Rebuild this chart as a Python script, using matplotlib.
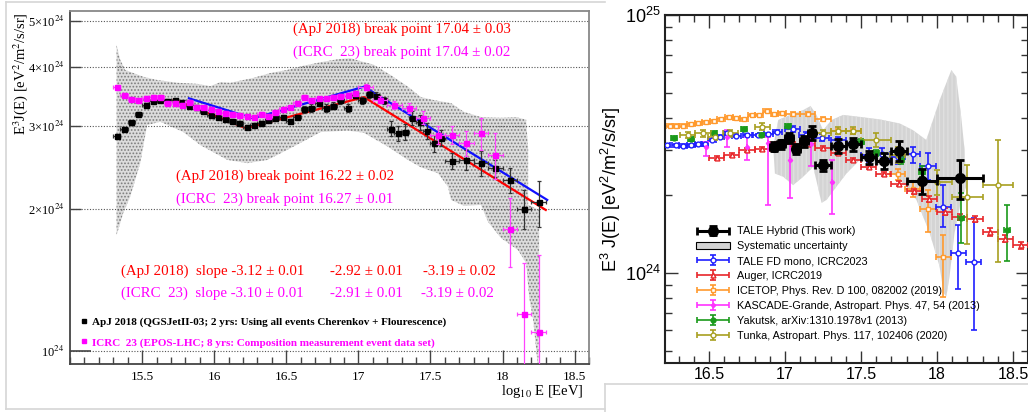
import matplotlib
matplotlib.use('Agg')
import matplotlib.pyplot as plt
from matplotlib.lines import Line2D
from matplotlib.patches import Patch
from matplotlib.container import ErrorbarContainer
from matplotlib.legend_handler import HandlerErrorbar
from matplotlib.ticker import MultipleLocator, LogLocator, NullFormatter

plt.rcParams['font.family'] = ['Liberation Serif', 'DejaVu Serif']
plt.rcParams['mathtext.fontset'] = 'custom'
plt.rcParams['mathtext.rm'] = 'Liberation Sans'
plt.rcParams['mathtext.it'] = 'Liberation Sans:italic'
plt.rcParams['hatch.linewidth'] = 0.8

# ---------------- left panel data (E^3 J in units of 1e24 eV^2/m^2/s/sr) ----------------
apj_x = [15.325, 15.375, 15.425, 15.475, 15.525, 15.575, 15.625, 15.675, 15.725, 15.775,
         15.825, 15.875, 15.925, 15.975, 16.025, 16.075, 16.125, 16.175, 16.225, 16.275,
         16.325, 16.375, 16.425, 16.475, 16.525, 16.575, 16.625, 16.675, 16.725, 16.775,
         16.825, 16.875, 16.925, 16.975, 17.025, 17.075, 17.125, 17.175, 17.225, 17.275,
         17.325, 17.375, 17.425, 17.475, 17.525, 17.575, 17.65, 17.75, 17.85, 17.95,
         18.05, 18.15, 18.25]
apj_y = [2.855, 2.95, 3.05, 3.18, 3.32, 3.39, 3.40, 3.39, 3.40, 3.365,
         3.30, 3.28, 3.22, 3.16, 3.13, 3.10, 3.075, 3.045, 2.98, 3.01,
         3.045, 3.085, 3.11, 3.135, 3.07, 3.135, 3.25, 3.27, 3.36, 3.27,
         3.31, 3.40, 3.27, 3.49, 3.40, 3.50, 3.475, 3.40, 2.96, 2.89,
         2.915, 3.12, 3.05, 2.925, 2.755, 2.83, 2.53, 2.54, 2.50, 2.44,
         2.30, 2.00, 2.065]
apj_yerr = [0.025, 0.025, 0.025, 0.025, 0.025, 0.025, 0.025, 0.025, 0.025, 0.025,
            0.025, 0.025, 0.025, 0.025, 0.025, 0.025, 0.025, 0.025, 0.025, 0.025,
            0.025, 0.025, 0.025, 0.025, 0.025, 0.025, 0.06, 0.06, 0.06, 0.06,
            0.06, 0.06, 0.06, 0.06, 0.06, 0.06, 0.06, 0.06, 0.11, 0.11,
            0.11, 0.11, 0.11, 0.11, 0.11, 0.11, 0.10, 0.12, 0.15, 0.10,
            0.14, 0.19, 0.23]
apj_xerr = [0.025, 0.025, 0.025, 0.025, 0.025, 0.025, 0.025, 0.025, 0.025, 0.025,
            0.025, 0.025, 0.025, 0.025, 0.025, 0.025, 0.025, 0.025, 0.025, 0.025,
            0.025, 0.025, 0.025, 0.025, 0.025, 0.025, 0.025, 0.025, 0.025, 0.025,
            0.025, 0.025, 0.025, 0.025, 0.025, 0.025, 0.025, 0.025, 0.025, 0.025,
            0.025, 0.025, 0.025, 0.025, 0.025, 0.025, 0.05, 0.05, 0.05, 0.05,
            0.05, 0.05, 0.05]

icrc_x = [15.325, 15.375, 15.425, 15.475, 15.525, 15.575, 15.625, 15.675, 15.725, 15.775,
          15.825, 15.875, 15.925, 15.975, 16.025, 16.075, 16.125, 16.175, 16.225, 16.275,
          16.325, 16.375, 16.425, 16.475, 16.525, 16.575, 16.625, 16.675, 16.725, 16.775,
          16.825, 16.875, 16.925, 16.975, 17.05, 17.15, 17.25, 17.35, 17.45, 17.55,
          17.65, 17.75, 17.85, 17.95, 18.05, 18.15, 18.25]
icrc_y = [3.62, 3.485, 3.42, 3.41, 3.44, 3.46, 3.46, 3.35, 3.35, 3.32,
          3.37, 3.29, 3.28, 3.25, 3.225, 3.20, 3.18, 3.16, 3.145, 3.135,
          3.18, 3.145, 3.21, 3.26, 3.28, 3.36, 3.46, 3.40, 3.43, 3.43,
          3.45, 3.47, 3.485, 3.52, 3.63, 3.41, 3.32, 3.27, 3.12, 2.87,
          2.87, 2.755, 2.89, 2.60, 1.81, 1.20, 1.095]
icrc_lo = [0.03, 0.03, 0.03, 0.03, 0.03, 0.03, 0.03, 0.03, 0.03, 0.03,
           0.03, 0.03, 0.03, 0.03, 0.03, 0.03, 0.03, 0.03, 0.03, 0.03,
           0.03, 0.03, 0.03, 0.03, 0.03, 0.03, 0.03, 0.03, 0.03, 0.03,
           0.03, 0.03, 0.03, 0.03, 0.05, 0.06, 0.07, 0.08, 0.10, 0.12,
           0.12, 0.17, 0.23, 0.29, 0.30, 0.70, 0.60]
icrc_hi = [0.03, 0.03, 0.03, 0.03, 0.03, 0.03, 0.03, 0.03, 0.03, 0.03,
           0.03, 0.03, 0.03, 0.03, 0.03, 0.03, 0.03, 0.03, 0.03, 0.03,
           0.03, 0.03, 0.03, 0.03, 0.03, 0.03, 0.03, 0.03, 0.03, 0.03,
           0.03, 0.03, 0.03, 0.03, 0.05, 0.06, 0.07, 0.08, 0.10, 0.12,
           0.12, 0.17, 0.23, 0.29, 0.30, 0.34, 0.50]
icrc_xerr = [0.025, 0.025, 0.025, 0.025, 0.025, 0.025, 0.025, 0.025, 0.025, 0.025,
             0.025, 0.025, 0.025, 0.025, 0.025, 0.025, 0.025, 0.025, 0.025, 0.025,
             0.025, 0.025, 0.025, 0.025, 0.025, 0.025, 0.025, 0.025, 0.025, 0.025,
             0.025, 0.025, 0.025, 0.025, 0.05, 0.05, 0.05, 0.05, 0.05, 0.05,
             0.05, 0.05, 0.05, 0.05, 0.05, 0.05, 0.05]

# broken power-law fits (vertices)
apj_fit_x = [15.72, 16.22, 17.04, 18.30]
apj_fit_y = [3.41, 2.965, 3.45, 1.99]
icrc_fit_x = [15.825, 16.27, 17.04, 18.31]
icrc_fit_y = [3.43, 3.11, 3.63, 2.09]

# systematic band outline
band_x = [15.323, 15.323, 15.348, 15.382, 15.438, 15.508, 15.605, 15.744, 15.883, 15.974,
          16.043, 16.113, 16.273, 16.391, 16.509, 16.620, 16.739, 16.857, 16.947, 17.017,
          17.107, 17.225, 17.344, 17.434, 17.524, 17.643, 17.733, 17.851, 17.990, 18.095,
          18.164, 18.178, 18.178, 18.254, 18.254, 18.248,
          18.234, 18.213, 18.185, 18.164, 18.108, 17.990, 17.900, 17.851, 17.733, 17.643,
          17.622, 17.552, 17.434, 17.344, 17.204, 17.038, 16.926, 16.739, 16.599, 16.509,
          16.370, 16.231, 16.092, 15.904, 15.786, 15.626, 15.535, 15.487, 15.417, 15.369,
          15.334]
band_y = [1.761, 4.45, 4.14, 3.94, 3.88, 3.81, 3.75, 3.70, 3.68, 3.64,
          3.71, 3.70, 3.79, 3.88, 3.94, 4.02, 4.09, 4.15, 4.17, 4.11,
          4.04, 3.84, 3.63, 3.45, 3.40, 3.35, 3.21, 3.13, 3.12, 3.13,
          3.09, 2.67, 2.04, 1.99, 1.28, 0.90,
          1.005, 1.163, 1.30, 1.536, 1.636, 1.735, 1.877, 2.04, 2.03, 2.09,
          2.23, 2.38, 2.45, 2.54, 2.71, 2.90, 2.93, 2.91, 2.76, 2.67,
          2.54, 2.50, 2.54, 2.73, 2.91, 3.06, 3.01, 2.50, 2.12, 1.96,
          1.805]

left_yticks = [2, 3, 4, 5]
left_yticklabels = ['2\u00d710$^{24}$', '3\u00d710$^{24}$', '4\u00d710$^{24}$', '5\u00d710$^{24}$']
left_xticks = [15.5, 16, 16.5, 17, 17.5, 18, 18.5]
left_xticklabels = ['15.5', '16', '16.5', '17', '17.5', '18', '18.5']

# ---------------- right panel data ----------------
hyb_x = [16.925, 16.975, 17.025, 17.075, 17.125, 17.175, 17.25, 17.35, 17.45, 17.55, 17.65, 17.75, 17.9, 18.15]
hyb_y = [3.09, 3.16, 3.33, 3.02, 3.25, 3.50, 2.62, 3.11, 3.16, 2.81, 2.72, 2.98, 2.27, 2.34]
hyb_yerr = [0.12, 0.13, 0.15, 0.14, 0.16, 0.21, 0.13, 0.19, 0.19, 0.17, 0.19, 0.27, 0.25, 0.40]
hyb_xerr = [0.025, 0.025, 0.025, 0.025, 0.025, 0.025, 0.05, 0.05, 0.05, 0.05, 0.05, 0.05, 0.1, 0.15]

fd_x = [16.22, 16.28, 16.33, 16.38, 16.43, 16.47, 16.52, 16.57, 16.62, 16.68, 16.75, 16.82, 16.89, 16.95,
        17.05, 17.14, 17.24, 17.35, 17.45, 17.55, 17.64, 17.74, 17.84, 17.94, 18.04, 18.14, 18.24]
fd_y = [3.13, 3.13, 3.11, 3.13, 3.15, 3.15, 3.28, 3.38, 3.48, 3.41, 3.43, 3.43, 3.45, 3.53,
        3.62, 3.43, 3.35, 3.28, 3.18, 2.87, 2.88, 2.82, 2.88, 2.61, 1.81, 1.20, 1.10]
fd_lo = [0.04, 0.04, 0.04, 0.04, 0.04, 0.04, 0.04, 0.04, 0.04, 0.04, 0.04, 0.04, 0.04, 0.04,
         0.10, 0.10, 0.10, 0.10, 0.10, 0.17, 0.17, 0.17, 0.20, 0.31, 0.30, 0.33, 0.50]
fd_hi = [0.04, 0.04, 0.04, 0.04, 0.04, 0.04, 0.04, 0.04, 0.04, 0.04, 0.04, 0.04, 0.04, 0.04,
         0.10, 0.10, 0.10, 0.10, 0.10, 0.17, 0.17, 0.17, 0.20, 0.31, 0.38, 0.34, 0.54]
fd_xerr = [0.025, 0.025, 0.025, 0.025, 0.025, 0.025, 0.025, 0.025, 0.025, 0.03, 0.03, 0.03, 0.03, 0.03,
           0.05, 0.05, 0.05, 0.05, 0.05, 0.05, 0.05, 0.05, 0.05, 0.05, 0.05, 0.05, 0.05]

aug_x = [16.55, 16.65, 16.75, 16.85, 16.95, 17.05, 17.15, 17.25, 17.35, 17.45, 17.55,
         17.65, 17.75, 17.85, 17.95, 18.05, 18.15, 18.25, 18.35, 18.45, 18.55]
aug_y = [2.78, 2.87, 3.00, 3.02, 3.16, 3.16, 3.16, 3.06, 2.91, 2.74, 2.58,
         2.42, 2.22, 2.07, 1.93, 1.73, 1.65, 1.62, 1.44, 1.36, 1.28]
aug_yerr = [0.05, 0.05, 0.05, 0.05, 0.05, 0.05, 0.05, 0.05, 0.05, 0.05, 0.05,
            0.05, 0.05, 0.05, 0.05, 0.05, 0.05, 0.05, 0.05, 0.04, 0.04]

ice_x = [16.24, 16.28, 16.33, 16.38, 16.43, 16.48, 16.53, 16.58, 16.63, 16.68, 16.73, 16.78, 16.83,
         16.88, 16.93, 16.98, 17.05, 17.15, 17.25, 17.35, 17.45, 17.74, 17.84, 17.94, 18.04]
ice_y = [3.72, 3.72, 3.72, 3.77, 3.80, 3.84, 3.88, 3.95, 4.01, 3.98, 3.95, 4.10, 4.10,
         4.26, 4.12, 4.16, 4.13, 4.13, 3.95, 3.55, 3.55, 2.42, 2.11, 1.77, 1.157]
ice_lo = [0.05, 0.05, 0.05, 0.05, 0.05, 0.05, 0.05, 0.05, 0.05, 0.05, 0.05, 0.05, 0.05,
          0.05, 0.05, 0.05, 0.06, 0.06, 0.07, 0.08, 0.08, 0.12, 0.14, 0.33, 0.35]
ice_hi = [0.05, 0.05, 0.05, 0.05, 0.05, 0.05, 0.05, 0.05, 0.05, 0.05, 0.05, 0.05, 0.05,
          0.05, 0.05, 0.05, 0.06, 0.06, 0.07, 0.08, 0.08, 0.12, 0.14, 0.33, 0.25]
ice_xerr = [0.025, 0.025, 0.025, 0.025, 0.025, 0.025, 0.025, 0.025, 0.025, 0.025, 0.025, 0.025, 0.025,
            0.025, 0.025, 0.025, 0.05, 0.05, 0.05, 0.05, 0.05, 0.05, 0.05, 0.05, 0.05]

kg_x = [16.48, 16.62, 16.75, 16.89, 17.03, 17.17, 17.31]
kg_y = [3.09, 3.38, 3.09, 3.18, 2.74, 3.15, 2.26]
kg_lo = [0.25, 0.29, 0.35, 1.35, 0.79, 0.54, 0.56]
kg_hi = [0.14, 0.21, 0.29, 0.19, 0.44, 0.17, 0.48]

yak_x = [16.27, 16.38, 16.53, 16.73, 16.84, 17.02, 17.50, 17.60, 17.76, 17.90, 18.16, 18.46]
yak_y = [3.33, 3.30, 3.48, 3.61, 3.43, 3.71, 3.23, 2.91, 2.74, 2.47, 1.64, 1.47]
yak_lo = [0.06, 0.06, 0.06, 0.06, 0.06, 0.07, 0.08, 0.08, 0.10, 0.12, 0.33, 0.36]
yak_hi = [0.06, 0.06, 0.06, 0.06, 0.06, 0.07, 0.08, 0.08, 0.10, 0.12, 0.41, 0.37]

tk_x = [16.36, 16.46, 16.54, 16.64, 16.85, 17.25, 17.35, 17.45, 17.60, 17.74, 18.00, 18.20, 18.40]
tk_y = [3.43, 3.48, 3.38, 3.48, 3.69, 3.48, 3.56, 3.56, 3.28, 2.87, 2.26, 1.97, 2.19]
tk_lo = [0.10, 0.10, 0.10, 0.10, 0.11, 0.10, 0.11, 0.11, 0.20, 0.20, 0.25, 0.67, 1.09]
tk_hi = [0.10, 0.10, 0.10, 0.10, 0.11, 0.10, 0.11, 0.11, 0.20, 0.20, 0.25, 0.65, 1.08]
tk_xerr = [0.05, 0.05, 0.05, 0.05, 0.05, 0.05, 0.05, 0.05, 0.1, 0.05, 0.1, 0.1, 0.1]

rband_x = [16.922, 16.955, 17.032, 17.119, 17.168, 17.207, 17.25, 17.306, 17.382, 17.491,
           17.623, 17.754, 17.841, 17.929, 18.017, 18.094, 18.126, 18.159, 18.181, 18.192,
           18.159, 18.115, 18.082, 18.061,
           18.043, 18.017, 17.951, 17.864, 17.798, 17.667, 17.491, 17.404, 17.338, 17.273,
           17.24, 17.185, 17.119, 17.053, 16.988, 16.933]
rband_y = [3.09, 3.92, 4.10, 4.28, 4.44, 4.10, 3.58, 3.92, 4.10, 4.03,
           3.94, 3.80, 3.58, 3.28, 4.68, 6.12, 5.77, 4.03, 3.0, 2.16,
           1.92, 1.43, 0.968, 0.81,
           0.837, 1.058, 1.43, 1.92, 2.16, 2.58, 2.74, 2.43, 2.16, 1.92,
           1.87, 2.58, 2.36, 2.19, 2.36, 2.43]

right_xticks = [16.5, 17, 17.5, 18, 18.5]
right_xticklabels = ['16.5', '17', '17.5', '18', '18.5']

W, H = 1028.0, 412.0


def fx(px):
    return px / W


def fy(py):
    return 1 - py / H


fig = plt.figure(figsize=(10.28, 4.12), dpi=100)

# light frames of the two screenshots
frame = dict(transform=fig.transFigure, color='#d6d6d6', lw=1.2)
fig.add_artist(Line2D([fx(6), fx(605)], [fy(2), fy(2)], **frame))
fig.add_artist(Line2D([fx(6), fx(6)], [fy(2), fy(409)], **frame))
fig.add_artist(Line2D([fx(6), fx(605)], [fy(409), fy(409)], **frame))
fig.add_artist(Line2D([fx(605), fx(605)], [fy(384), fy(412)], **frame))
fig.add_artist(Line2D([fx(605), fx(1028)], [fy(384), fy(384)], **frame))

# ================= left panel =================
ax = fig.add_axes([fx(70), fy(364), fx(589) - fx(70), fy(11) - fy(364)])
ax.set_yscale('log')
ax.set_xlim(15.0, 18.6)
ax.set_ylim(0.939, 5.25)

ax.fill(band_x, band_y, facecolor='#dcdcdc', edgecolor='#7c7c7c', hatch='.....', linewidth=0, zorder=1)

ax.set_yticks([1], labels=['10$^{24}$'], fontsize=9, math_fontfamily='stix')
ax.set_yticks(left_yticks, labels=left_yticklabels, minor=True, fontsize=9, math_fontfamily='stix')
ax.set_xticks(left_xticks, labels=left_xticklabels, fontsize=9.5)
ax.xaxis.set_minor_locator(MultipleLocator(0.1))
ax.tick_params(axis='y', which='major', direction='in', length=15, width=1.2, color='#444444', pad=4)
ax.tick_params(axis='y', which='minor', direction='in', length=8, width=1.0, color='#444444', pad=4)
ax.tick_params(axis='x', which='major', direction='in', length=10, width=1.0, color='#444444', pad=5)
ax.tick_params(axis='x', which='minor', direction='in', length=5, width=1.0, color='#444444')
ax.grid(True, axis='y', which='both', color='#555555', linestyle=(0, (1, 1.5)), linewidth=0.8, zorder=2)
for side in ['left', 'bottom']:
    ax.spines[side].set_color('#444444')
    ax.spines[side].set_linewidth(1.3)
for side in ['top', 'right']:
    ax.spines[side].set_color('#888888')
    ax.spines[side].set_linewidth(1.3)

ax.plot(apj_fit_x, apj_fit_y, color='#ff0000', lw=1.6, zorder=3)
ax.plot(icrc_fit_x, icrc_fit_y, color='#1010ff', lw=1.6, zorder=3)

ax.errorbar(apj_x, apj_y, yerr=apj_yerr, xerr=apj_xerr, fmt='s', color='black', ecolor='#333333',
            ms=3.6, elinewidth=0.9, capsize=1.5, capthick=0.9, zorder=4)
ax.errorbar(icrc_x, icrc_y, yerr=[icrc_lo, icrc_hi], xerr=icrc_xerr, fmt='s', color='#ff00ff',
            ecolor='#ff44ff', ms=3.6, elinewidth=0.9, capsize=1.5, capthick=0.9, zorder=5)

red, mag = '#ff0000', '#ff00ff'
tk = dict(transform=ax.transAxes, fontsize=10.7, va='center', ha='left')
ax.text(0.429, 0.949, '(ApJ 2018) break point 17.04 \u00b1 0.03', color=red, **tk)
ax.text(0.429, 0.884, '(ICRC  23) break point 17.04 \u00b1 0.02', color=mag, **tk)
ax.text(0.204, 0.533, '(ApJ 2018) break point 16.22 \u00b1 0.02', color=red, **tk)
ax.text(0.204, 0.467, '(ICRC  23) break point 16.27 \u00b1 0.01', color=mag, **tk)
ax.text(0.0977, 0.263, '(ApJ 2018)  slope -3.12 \u00b1 0.01', color=red, **tk)
ax.text(0.501, 0.263, '-2.92 \u00b1 0.01', color=red, **tk)
ax.text(0.680, 0.263, '-3.19 \u00b1 0.02', color=red, **tk)
ax.text(0.0977, 0.201, '(ICRC  23)  slope -3.10 \u00b1 0.01', color=mag, **tk)
ax.text(0.501, 0.201, '-2.91 \u00b1 0.01', color=mag, **tk)
ax.text(0.677, 0.201, '-3.19 \u00b1 0.02', color=mag, **tk)

leg_handles = [Line2D([], [], marker='s', color='black', ls='none', ms=3),
               Line2D([], [], marker='s', color='#ff00ff', ls='none', ms=3)]
leg_labels = ['ApJ 2018 (QGSJetII-03; 2 yrs: Using all events Cherenkov + Flourescence)',
              'ICRC  23 (EPOS-LHC; 8 yrs: Composition measurement event data set)']
leg = ax.legend(leg_handles, leg_labels, loc='lower left', bbox_to_anchor=(0.01, 0.034),
                frameon=False, prop={'family': 'Liberation Serif', 'weight': 'bold', 'size': 8.0},
                handlelength=0.8, handletextpad=0.32, labelspacing=0.95, borderaxespad=0)
for t, c in zip(leg.get_texts(), ['black', '#ff00ff']):
    t.set_color(c)

fig.text(fx(21), fy(12), 'E$^{3}$J(E) [eV$^{2}$/m$^{2}$/s/sr]', rotation=90, ha='center', va='top',
         fontsize=10.5, math_fontfamily='stix')
fig.text(fx(584), fy(391), 'log$_{10}$ E [EeV]', ha='right', va='center', fontsize=10.5,
         math_fontfamily='stix')

# ================= right panel =================
sans = 'Liberation Sans'
ax2 = fig.add_axes([fx(665), fy(363), fx(1027.5) - fx(665), fy(15) - fy(363)])
ax2.set_yscale('log')
ax2.set_xlim(16.21, 18.595)
ax2.set_ylim(0.448, 10)

ax2.fill(rband_x, rband_y, facecolor='#d4d4d4', edgecolor='#e2e2e2', hatch='||||', linewidth=0, zorder=1)

ax2.set_yticks([1, 10], labels=[r'$10^{24}$', r'$10^{25}$'], fontsize=13, fontfamily=sans)
ax2.yaxis.set_minor_locator(LogLocator(base=10, subs=(2, 3, 4, 5, 6, 7, 8, 9)))
ax2.yaxis.set_minor_formatter(NullFormatter())
ax2.set_xticks(right_xticks, labels=right_xticklabels, fontsize=11.5, fontfamily=sans)
ax2.xaxis.set_minor_locator(MultipleLocator(0.1))
ax2.tick_params(which='both', direction='in', top=True, right=True, width=1.0, color='#333333')
ax2.tick_params(which='major', length=9, pad=3)
ax2.tick_params(which='minor', length=5)
for s in ax2.spines.values():
    s.set_linewidth(1.5)
    s.set_color('#222222')

eb = dict(elinewidth=1.2, capsize=2, capthick=1.2, ls='none')
h_fd = ax2.errorbar(fd_x, fd_y, yerr=[fd_lo, fd_hi], xerr=fd_xerr, marker='o', ms=3.5, mfc='white',
                    color='#1f1fff', zorder=3, **eb)
h_aug = ax2.errorbar(aug_x, aug_y, yerr=aug_yerr, xerr=0.05, marker='^', ms=3.5, mfc='white',
                     color='#e8262a', zorder=3, **eb)
h_ice = ax2.errorbar(ice_x, ice_y, yerr=[ice_lo, ice_hi], xerr=ice_xerr, marker='s', ms=3.2, mfc='white',
                     color='#ff9a2e', zorder=2, **eb)
h_kg = ax2.errorbar(kg_x, kg_y, yerr=[kg_lo, kg_hi], xerr=0.0, marker='D', ms=2.2, color='#ff33ff',
                    zorder=3, **eb)
h_yak = ax2.errorbar(yak_x, yak_y, yerr=[yak_lo, yak_hi], xerr=0.02, marker='o', ms=3.5, color='#1a9a1a',
                     zorder=3, **eb)
h_tk = ax2.errorbar(tk_x, tk_y, yerr=[tk_lo, tk_hi], xerr=tk_xerr, marker='o', ms=3.5, mfc='white',
                    color='#a8a020', zorder=3, **eb)
h_hyb = ax2.errorbar(hyb_x, hyb_y, yerr=hyb_yerr, xerr=hyb_xerr, marker='o', ms=7, color='black',
                     elinewidth=2.2, capsize=3, capthick=2, ls='none', zorder=5)
h_band = Patch(facecolor='#d4d4d4', edgecolor='black', linewidth=0.8)

handles = [h_hyb, h_band, h_fd, h_aug, h_ice, h_kg, h_yak, h_tk]
labels = ['TALE Hybrid (This work)', 'Systematic uncertainty', 'TALE FD mono, ICRC2023', 'Auger, ICRC2019',
          'ICETOP, Phys. Rev. D 100, 082002 (2019)', 'KASCADE-Grande, Astropart. Phys. 47, 54 (2013)',
          'Yakutsk, arXiv:1310.1978v1 (2013)', 'Tunka, Astropart. Phys. 117, 102406 (2020)']
ax2.legend(handles, labels, loc='upper left', bbox_to_anchor=(0.074, 0.405), frameon=False,
           prop={'family': sans, 'size': 7.8}, handlelength=3.1, handletextpad=0.65, labelspacing=0.45,
           borderaxespad=0,
           handler_map={ErrorbarContainer: HandlerErrorbar(xerr_size=1.5, yerr_size=0.45)})

fig.text(fx(611), fy(272), r'E$^3$ J(E) [eV$^2$/m$^2$/s/sr]', rotation=90, ha='center', va='bottom',
         fontsize=13, fontfamily=sans)

fig.savefig('out.png', dpi=100)
